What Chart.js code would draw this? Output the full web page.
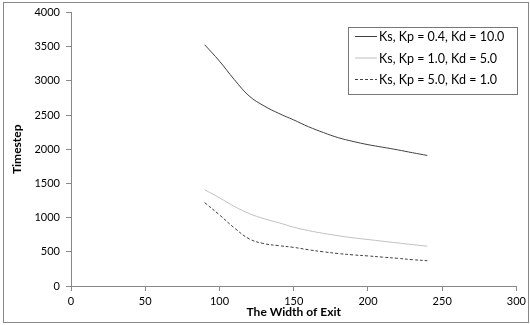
<!DOCTYPE html>
<html>
<head>
<meta charset="utf-8">
<script src="https://cdn.jsdelivr.net/npm/chart.js@4/dist/chart.umd.min.js"></script>
<style>
  html, body { margin: 0; padding: 0; background: #fff; }
  #wrap { position: relative; width: 530px; height: 325px; }
</style>
</head>
<body>
<div id="wrap"><canvas id="myChart" width="530" height="325"></canvas></div>
<script>
// values
const widths = [90, 100, 110, 120, 130, 140, 150, 160, 170, 180, 190, 200, 210, 220, 230, 240];
const series1 = [3530, 3290, 3020, 2780, 2635, 2525, 2430, 2330, 2245, 2170, 2115, 2068, 2030, 1992, 1950, 1910];
const series2 = [1410, 1290, 1165, 1060, 985, 925, 860, 810, 770, 735, 705, 680, 655, 630, 605, 583];
const series3 = [1220, 1040, 850, 690, 620, 590, 565, 530, 500, 475, 455, 440, 422, 405, 385, 370];
const seriesNames = ["Ks, Kp = 0.4, Kd = 10.0", "Ks, Kp = 1.0, Kd = 5.0", "Ks, Kp = 5.0, Kd = 1.0"];
const xTitle = "The Width of Exit";
const yTitle = "Timestep";

const FONT = "Lato, 'Open Sans', sans-serif";

function toPoints(values) {
  return widths.map((w, i) => ({ x: w, y: values[i] }));
}

// legend box drawn inside the plot, plus the outer frame
const boxLegend = {
  id: "boxLegend",
  afterDraw(chart) {
    const ctx = chart.ctx;
    ctx.save();
    ctx.strokeStyle = "#888";
    ctx.lineWidth = 1;
    ctx.strokeRect(3.5, 2.5, 525, 320);

    ctx.strokeStyle = "#777";
    ctx.strokeRect(348.5, 27.5, 169, 67);
    const rows = [36, 57.5, 79];
    chart.data.datasets.forEach((ds, i) => {
      ctx.beginPath();
      ctx.strokeStyle = ds.borderColor;
      ctx.lineWidth = ds.borderWidth;
      ctx.setLineDash(ds.borderDash || []);
      ctx.moveTo(355, rows[i] + 0.5);
      ctx.lineTo(377, rows[i] + 0.5);
      ctx.stroke();
      ctx.setLineDash([]);
      ctx.fillStyle = "#000";
      ctx.font = "12.5px " + FONT;
      ctx.textBaseline = "middle";
      ctx.fillText(ds.label, 379, rows[i] + 1);
    });
    ctx.restore();
  }
};

const ctx = document.getElementById("myChart").getContext("2d");
const chart = new Chart(ctx, {
  type: "line",
  data: {
    datasets: [
      {
        label: seriesNames[0],
        data: toPoints(series1),
        borderColor: "#404040",
        borderWidth: 1,
        pointRadius: 0,
        tension: 0.4
      },
      {
        label: seriesNames[1],
        data: toPoints(series2),
        borderColor: "#c0c0c0",
        borderWidth: 1,
        pointRadius: 0,
        tension: 0.4
      },
      {
        label: seriesNames[2],
        data: toPoints(series3),
        borderColor: "#404040",
        borderWidth: 1,
        borderDash: [3, 2],
        pointRadius: 0,
        tension: 0.4
      }
    ]
  },
  options: {
    responsive: false,
    animation: false,
    layout: { padding: { left: 6, right: 10, top: 12, bottom: 0 } },
    plugins: {
      legend: { display: false },
      tooltip: { enabled: false }
    },
    scales: {
      x: {
        type: "linear",
        min: 0,
        max: 300,
        ticks: { stepSize: 50, color: "#000", font: { family: FONT, size: 11 }, padding: 4, maxRotation: 0 },
        grid: { drawOnChartArea: false, drawTicks: true, tickLength: 5, color: "#888" },
        border: { color: "#888" },
        title: { display: true, text: xTitle, color: "#000", font: { family: FONT, size: 12, weight: "bold" }, padding: { top: 0, bottom: 6 } },
        afterFit(scale) { scale.height = 39; }
      },
      y: {
        min: 0,
        max: 4000,
        ticks: { stepSize: 500, color: "#000", font: { family: FONT, size: 11 }, padding: 6, callback: v => String(v) },
        grid: { drawOnChartArea: false, drawTicks: true, tickLength: 5, color: "#888" },
        border: { color: "#888" },
        title: { display: true, text: yTitle, color: "#000", font: { family: FONT, size: 12, weight: "bold" }, padding: { bottom: 6 } },
        afterFit(scale) { scale.width = 65; }
      }
    }
  },
  plugins: [boxLegend]
});
</script>
</body>
</html>
